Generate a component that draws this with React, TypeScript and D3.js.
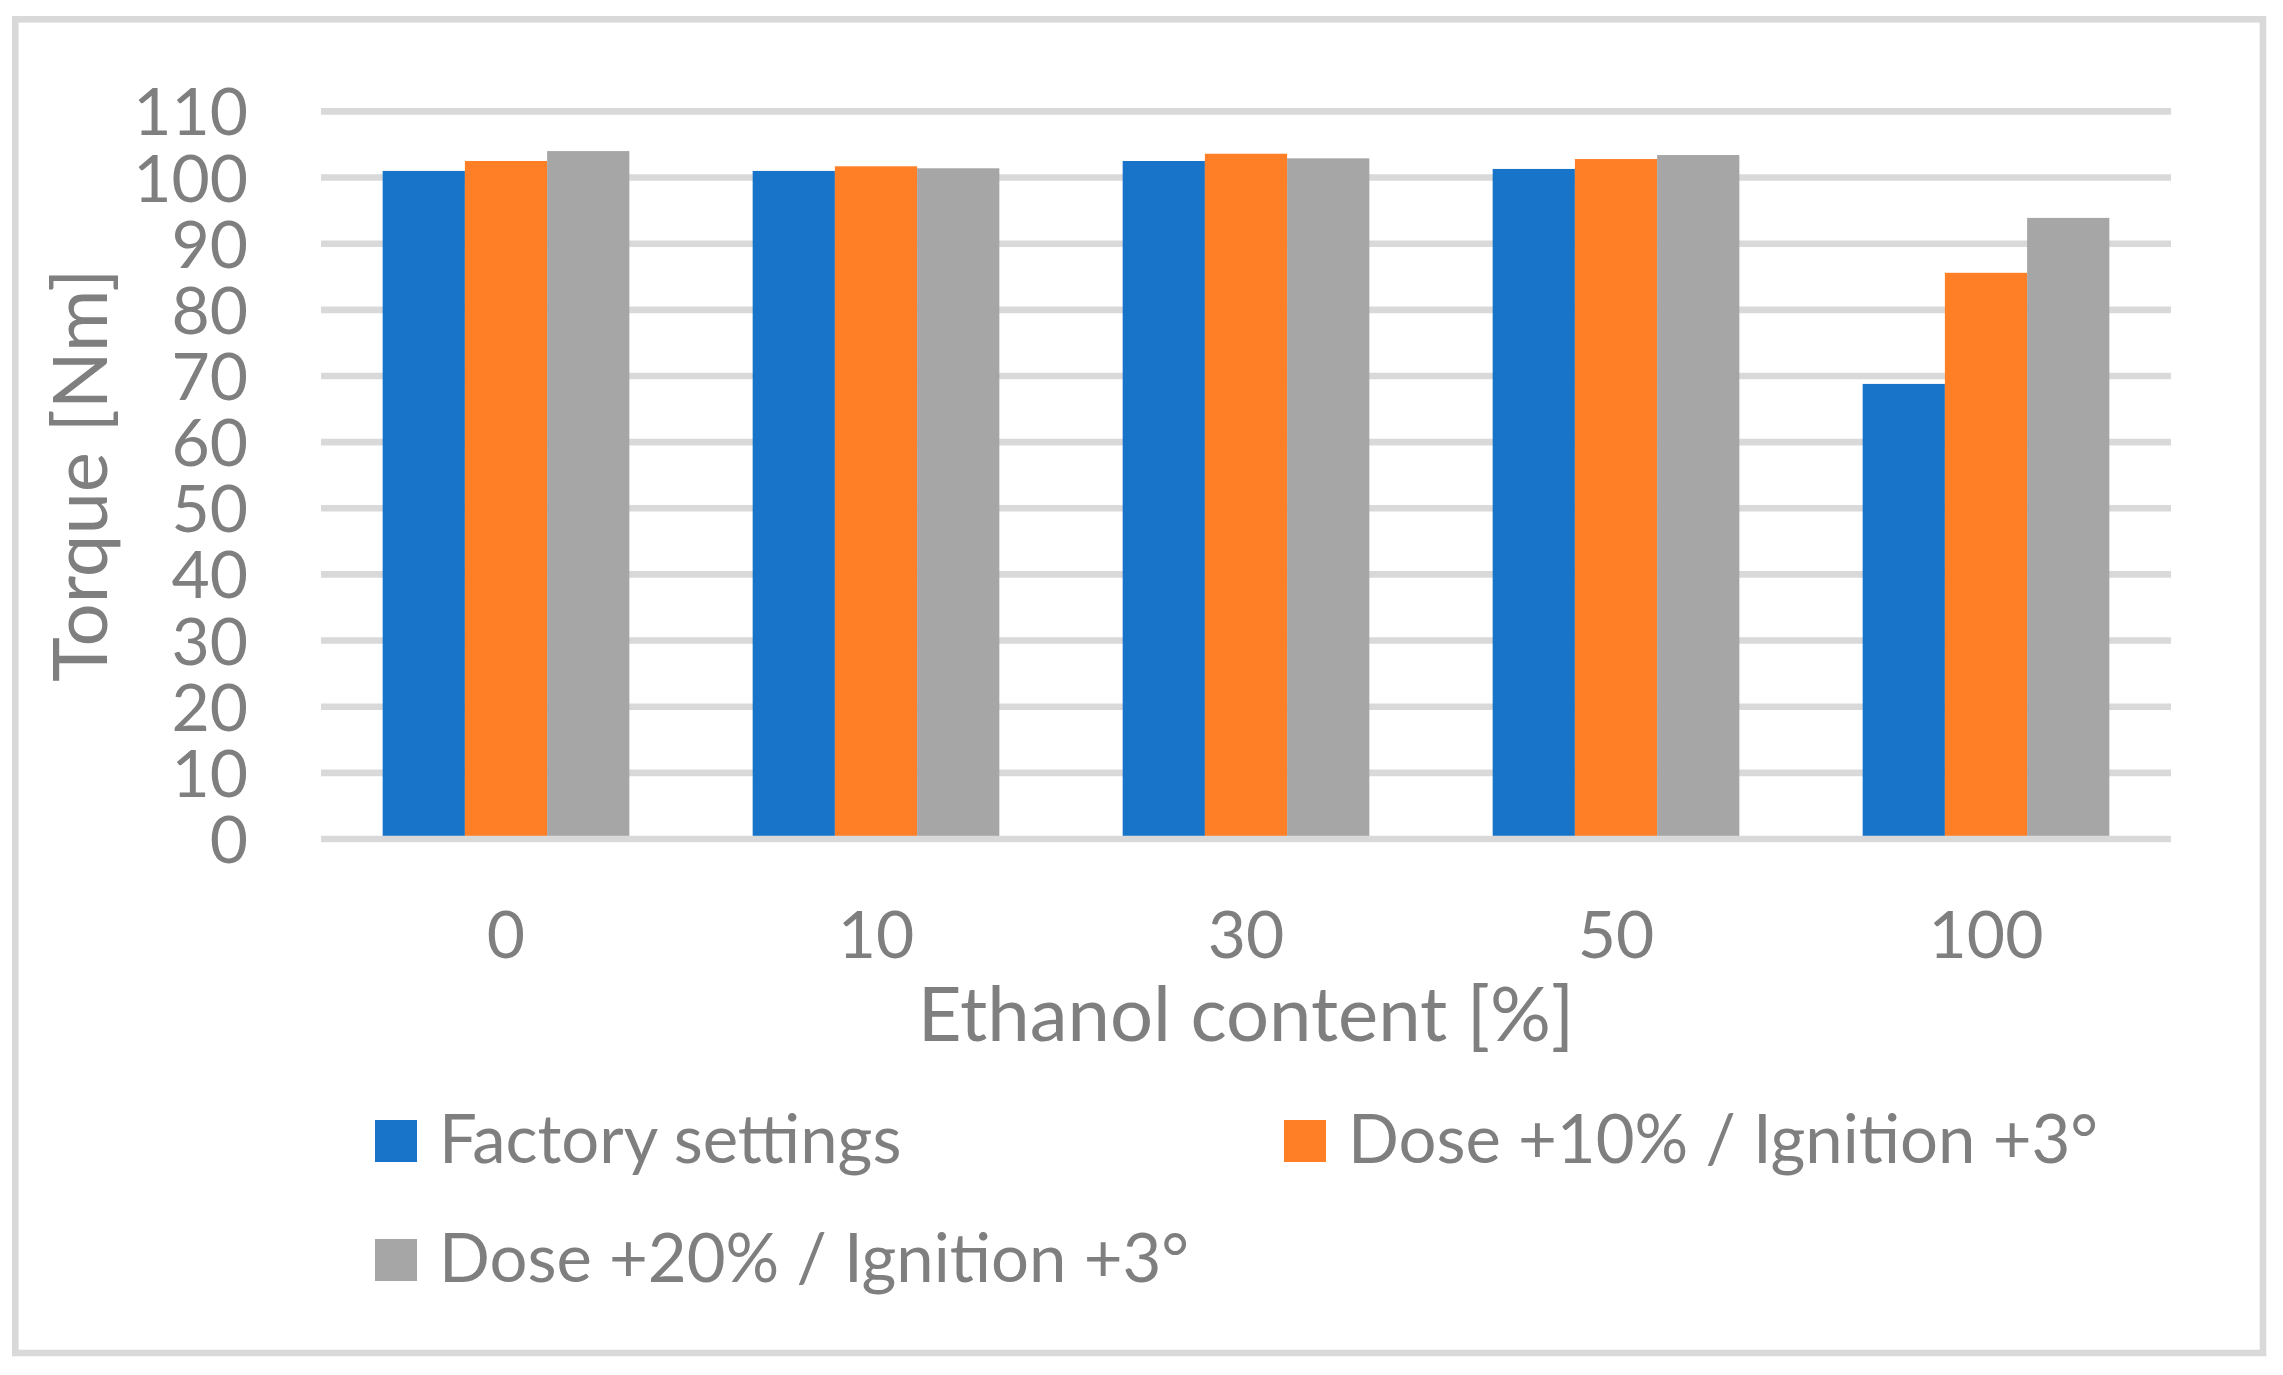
import * as d3 from 'd3';

const categories = ['0', '10', '30', '50', '100'];
const seriesNames = ['Factory settings', 'Dose +10% / Ignition +3°', 'Dose +20% / Ignition +3°'];
const factory = [101.0, 101.0, 102.5, 101.3, 68.8];
const dose10 = [102.5, 101.7, 103.6, 102.8, 85.6];
const dose20 = [104.0, 101.4, 102.9, 103.4, 93.9];
const yTicks = [0, 10, 20, 30, 40, 50, 60, 70, 80, 90, 100, 110];
const colors = ['#1874C9', '#FF7F27', '#A6A6A6'];

const W = 2283;
const H = 1375;
const plot = { left: 321, right: 2171, top: 111.4, bottom: 839 };
const font = 'Lato, "Noto Sans", sans-serif';
const textColor = '#7f7f7f';
const gridColor = '#d9d9d9';

export default function App() {
  const series = [factory, dose10, dose20];

  const x = d3.scaleBand().domain(categories).range([plot.left, plot.right]).padding(0);
  const xInner = d3
    .scaleBand()
    .domain(seriesNames)
    .range([0, x.bandwidth()])
    .paddingInner(0)
    .paddingOuter(0.75);
  const y = d3.scaleLinear().domain([0, 110]).range([plot.bottom, plot.top]);

  // legend layout: two per row
  const legendPos = [
    { x: 375, y: 1141 },
    { x: 1284, y: 1141 },
    { x: 375, y: 1260 },
  ];

  return (
    <svg
      width={W}
      height={H}
      viewBox={`0 0 ${W} ${H}`}
      style={{ position: 'absolute', left: 0, top: 0, background: '#fff' }}
      fontFamily={font}
    >
      <rect x={0} y={0} width={W} height={H} fill="#fff" />
      <rect x={15.3} y={19.3} width={2263 - 15.3} height={1353 - 19.3} fill="none" stroke={gridColor} strokeWidth={6.6} />

      {yTicks.map((t) => (
        <g key={t}>
          {t > 0 && (
            <line x1={plot.left} x2={plot.right} y1={y(t)} y2={y(t)} stroke={gridColor} strokeWidth={6.6} />
          )}
          <text x={248} y={y(t) + 24} textAnchor="end" fontSize={66} fill={textColor}>
            {t}
          </text>
        </g>
      ))}

      {categories.map((c, i) => (
        <g key={c} transform={`translate(${x(c)},0)`}>
          {series.map((s, j) => (
            <rect
              key={j}
              x={xInner(seriesNames[j])}
              y={y(s[i])}
              width={xInner.bandwidth()}
              height={y(0) - y(s[i])}
              fill={colors[j]}
            />
          ))}
        </g>
      ))}

      <line x1={plot.left} x2={plot.right} y1={y(0)} y2={y(0)} stroke={gridColor} strokeWidth={6.6} />

      {categories.map((c) => (
        <text key={c} x={(x(c) ?? 0) + x.bandwidth() / 2} y={958} textAnchor="middle" fontSize={66} fill={textColor}>
          {c}
        </text>
      ))}

      <text x={(plot.left + plot.right) / 2} y={1041} textAnchor="middle" fontSize={76} fill={textColor}>
        Ethanol content [%]
      </text>
      <text
        transform={`translate(107,${(plot.top + plot.bottom) / 2}) rotate(-90)`}
        textAnchor="middle"
        fontSize={76}
        fill={textColor}
      >
        Torque [Nm]
      </text>

      {seriesNames.map((name, j) => (
        <g key={name} transform={`translate(${legendPos[j].x},${legendPos[j].y})`}>
          <rect x={0} y={-21} width={42} height={42} fill={colors[j]} />
          <text x={64} y={22} fontSize={67} fill={textColor}>
            {name}
          </text>
        </g>
      ))}
    </svg>
  );
}
